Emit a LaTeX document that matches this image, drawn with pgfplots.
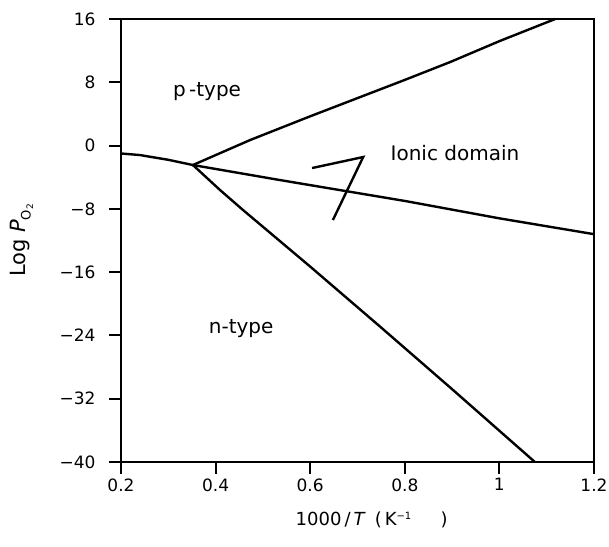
\documentclass[border=0pt]{standalone}
\usepackage{pgfplots}
\pgfplotsset{compat=1.18}
\usepackage{fontspec}
\setmainfont{DejaVu Sans}
\newcommand\tickfont{\fontsize{17}{20}\selectfont}
\newcommand\labfont{\fontsize{18}{21}\selectfont}
\newcommand\ylabfont{\fontsize{21}{24}\selectfont}
\newcommand\txtfont{\fontsize{20}{24}\selectfont}
\newcommand\subfont{\fontsize{13}{14}\selectfont}
\newcommand\subsubfont{\fontsize{9}{10}\selectfont}
\newcommand\supfont{\fontsize{10}{11}\selectfont}
\begin{document}
\begin{tikzpicture}
\begin{axis}[
  scale only axis,
  width=473pt, height=443pt,
  xmin=0.2, xmax=1.2, ymin=-40, ymax=16,
  xtick={0.2,0.4,0.6,0.8,1,1.2},
  xticklabels={0.2,0.4,0.6,0.8,1,1.2},
  ytick={-40,-32,-24,-16,-8,0,8,16},
  yticklabels={−40,−32,−24,−16,−8,0,8,16},
  tick align=outside, xtick pos=bottom, ytick pos=left,
  major tick length=12pt,
  axis line style={line width=2pt},
  tick style={line width=2pt, black},
  tick label style={font=\tickfont},
  label style={font=\labfont},
  /pgf/number format/assume math mode=true,
  yticklabel style={xshift=-10pt},
  xticklabel style={yshift=-1pt},
  xlabel={1000\,/\,\textit{T}\hspace{0.5em}(\,K\textsuperscript{\supfont −1}\hspace{1.6em})},
  xlabel style={at={(axis description cs:0.53,-0.131)}, anchor=center},
  ylabel={\ylabfont Log \textit{P}\raisebox{-0.45ex}{\subfont O\raisebox{-0.35ex}{\subsubfont 2}}},
  ylabel style={at={(axis description cs:-0.21,0.5)}, anchor=center},
  clip=false,
]
% middle boundary (p-type / n-type vs ionic)
\addplot[black, line width=2.4pt] coordinates {
  (0.200,-1.0) (0.240,-1.2) (0.300,-1.8) (0.352,-2.46) (0.536,-4.36) (0.800,-7.0) (1.000,-9.2) (1.200,-11.2)
};
% upper boundary
\addplot[black, line width=2.4pt] coordinates {
  (0.352,-2.46) (0.473,0.7) (0.600,3.7) (0.700,6.0) (0.800,8.3) (0.896,10.56) (1.000,13.2) (1.118,16.0)
};
% lower boundary
\addplot[black, line width=2.4pt] coordinates {
  (0.352,-2.46) (0.409,-5.6) (0.458,-8.15) (0.600,-15.3) (0.748,-22.9) (0.902,-30.9) (1.075,-40.0)
};
% arrow-like stroke
\addplot[black, line width=2.4pt] coordinates {
  (0.604,-2.84) (0.712,-1.45) (0.648,-9.41)
};
\node[font=\txtfont] at (axis cs:0.382,6.77) {p\,-type};
\node[font=\txtfont] at (axis cs:0.906,-0.94) {Ionic domain};
\node[font=\txtfont] at (axis cs:0.454,-23.1) {n-type};
\end{axis}
\pgfresetboundingbox
\path ([shift={(-121pt,-85pt)}]current axis.south west) rectangle ([shift={(15pt,19pt)}]current axis.north east);
\end{tikzpicture}
\end{document}
